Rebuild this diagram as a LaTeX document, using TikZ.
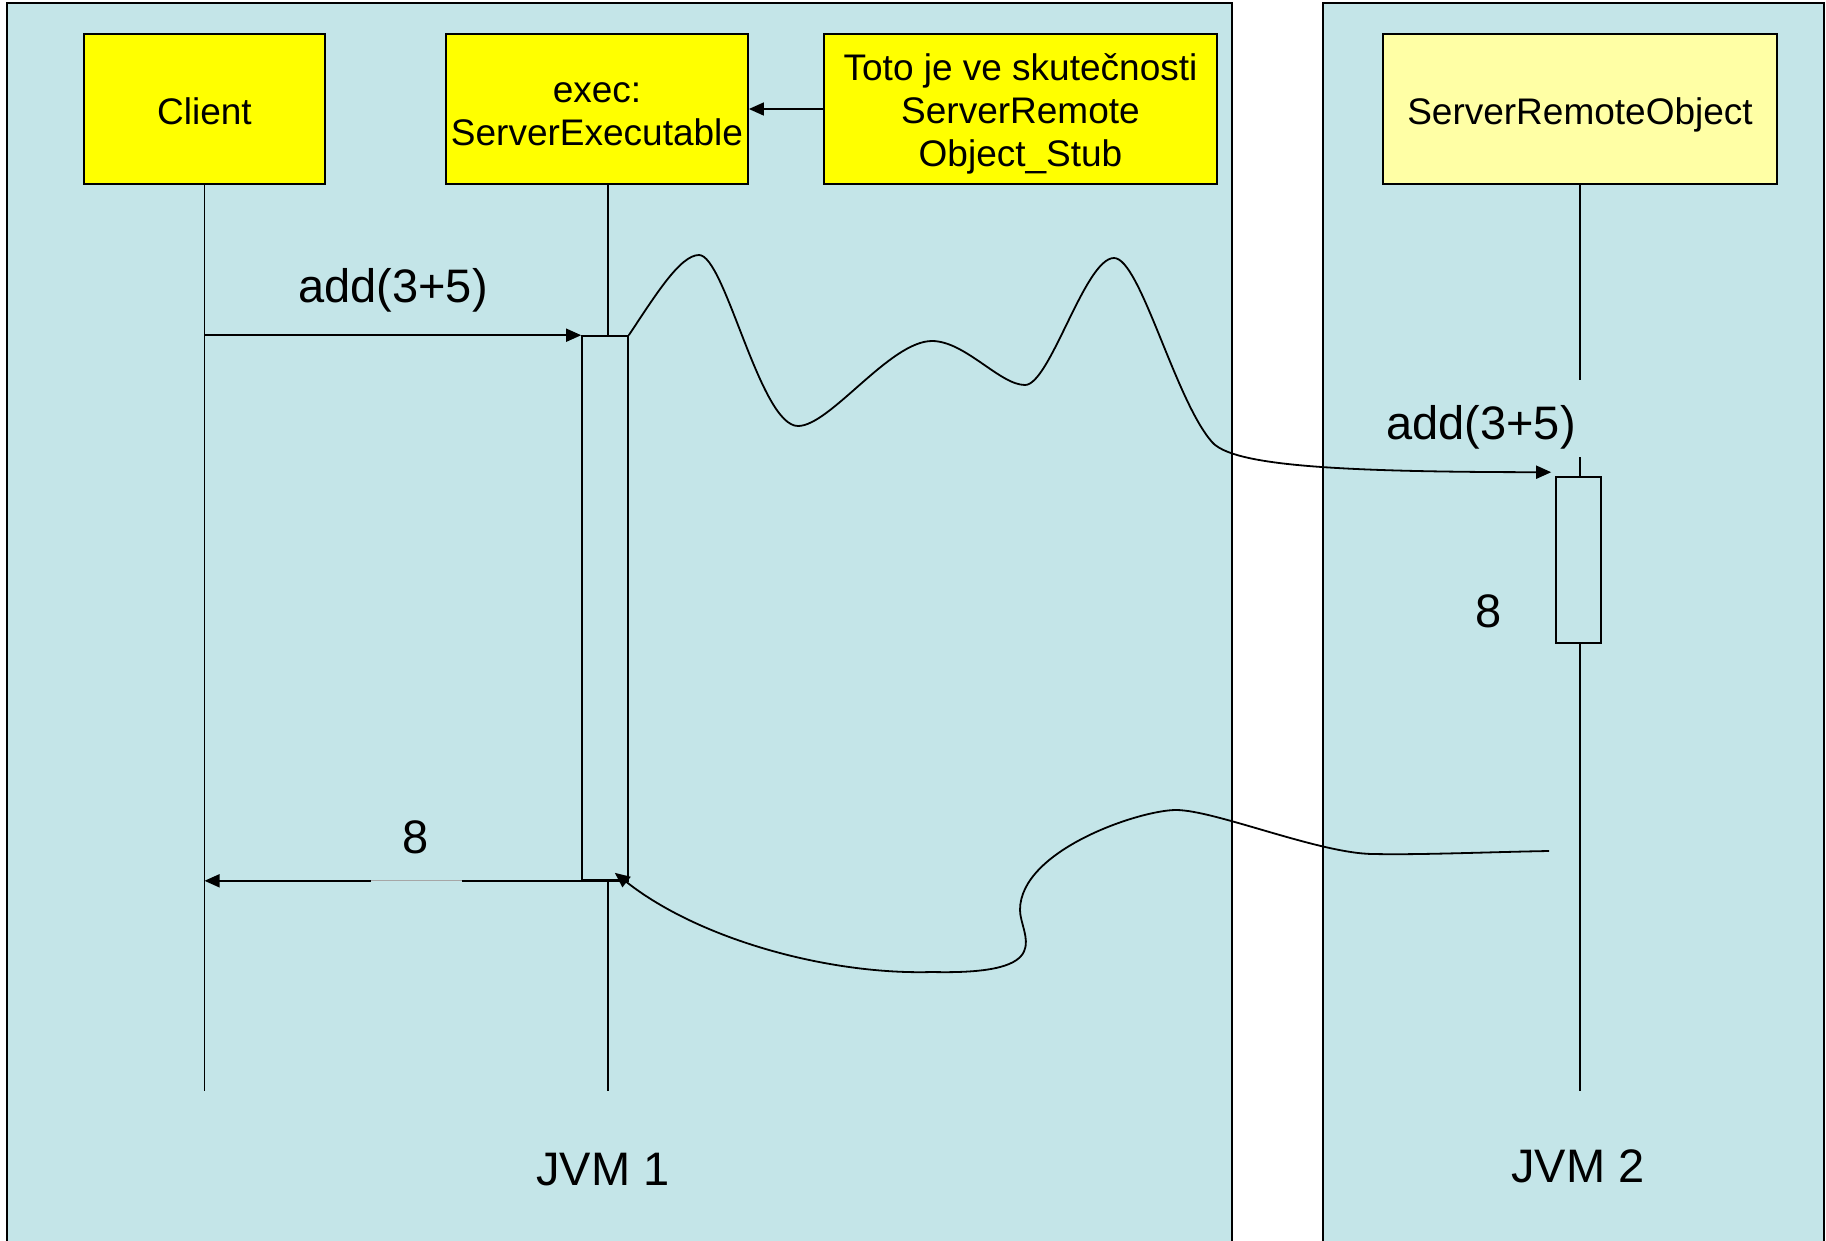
\documentclass[tikz,border=0pt]{standalone}
\usepackage{fontspec}
\setmainfont{Liberation Sans}
\usetikzlibrary{arrows.meta}
\definecolor{panelc}{RGB}{196,229,232}
\definecolor{boxy}{RGB}{255,255,0}
\definecolor{boxly}{RGB}{255,255,165}
\begin{document}
\begin{tikzpicture}[x=1pt,y=-1pt,
  panel/.style={draw=black, line width=1.5pt, fill=panelc},
  objbox/.style={draw=black, line width=1.8pt, fill=boxy, rectangle, inner sep=0pt, minimum height=150pt},
  boxtxt/.style={font=\fontsize{37}{43}\selectfont, align=center, inner sep=0pt},
  life/.style={line width=1.3pt},
  msg/.style={line width=1.6pt, -{Triangle[length=15pt,width=13pt]}},
  wave/.style={line width=1.8pt, -{Triangle[length=15pt,width=13pt]}},
  actbox/.style={draw, line width=1.6pt, fill=panelc, inner sep=0pt},
  lbl/.style={font=\fontsize{47}{56}\selectfont, inner sep=0pt}]
\useasboundingbox (0,0) rectangle (1826,1240);
\clip (0,0) rectangle (1826,1240);
\fill[white] (0,0) rectangle (1826,1240);
\draw[panel] (7,3) rectangle (1232,1262);
\draw[panel] (1323,3) rectangle (1824,1262);

\node[objbox, minimum width=241pt, label={[boxtxt, yshift=-2.5pt]center:Client}] (client) at (204.5,109) {};
\node[objbox, minimum width=302pt, label={[boxtxt, yshift=-5pt]center:{exec:\\ServerExecutable}}] (exec) at (597,109) {};
\node[objbox, minimum width=393pt, label={[boxtxt, yshift=-5pt]center:{Toto je ve skutečnosti\\ServerRemote\\Object\_Stub}}] (stub) at (1020.5,109) {};
\node[objbox, fill=boxly, minimum width=394pt, label={[boxtxt, yshift=-6pt]center:ServerRemoteObject}] (sro) at (1580,109) {};

\coordinate (cEnd) at (204.5,1091);
\coordinate (eEnd) at (608,1091);
\coordinate (sEnd) at (1580,1091);
\coordinate (sGapA) at (1580,380);
\coordinate (sGapB) at (1580,457);
\coordinate (ret) at (1549,851);

\draw[life] (client.south) -- (cEnd);
\draw[life] (exec.south -| eEnd) -- (eEnd);
\draw[life] (sro.south) -- (sGapA);
\draw[life] (sGapB) -- (sEnd);

\node[actbox, minimum width=46pt, minimum height=544pt] (act1) at (605,608) {};
\node[actbox, minimum width=45pt, minimum height=166pt] (act2) at (1578.5,560) {};

\draw[msg] (client.south |- act1.north west) -- (act1.north west);
\node[lbl] (lblAddA) at (393,290) {add(3+5)};

\draw[msg] (act1.south east) -- (client.south |- act1.south);
\fill[panelc] (371,877.5) rectangle (462,882.5);
\draw[gray!70, line width=0.6pt] (371,880) -- (462,880);
\node[lbl] (lblEightA) at (416,837) {8};

\draw[msg] (stub.west) -- (exec.east);

\draw[wave] (act1.north east)
  .. controls (655,296) and (680,255) .. (699,255)
  .. controls (725,255) and (760,426) .. (798,426)
  .. controls (830,426) and (890,341) .. (932,341)
  .. controls (965,341) and (1000,385) .. (1025,385)
  .. controls (1050,385) and (1085,258) .. (1114,258)
  .. controls (1140,258) and (1175,400) .. (1212,442)
  .. controls (1232,465) and (1330,472) .. ([xshift=-4pt,yshift=4pt]act2.north west);

\draw[wave] (ret)
  .. controls (1490,852) and (1420,855) .. (1374,854)
  .. controls (1320,854) and (1215,810) .. (1176,810)
  .. controls (1140,810) and (1020,850) .. (1020,910)
  .. controls (1020,935) and (1060,975) .. (932,972)
  .. controls (830,975) and (700,940) .. ([xshift=-14pt,yshift=8pt]act1.south east);

\node[lbl] (lblAddB) at (1481,427) {add(3+5)};
\node[lbl] (lblEightB) at (1489,611) {8};
\node[lbl] (jvm1) at (603,1170) {JVM 1};
\node[lbl] (jvm2) at (1578,1166) {JVM 2};
\end{tikzpicture}
\end{document}
